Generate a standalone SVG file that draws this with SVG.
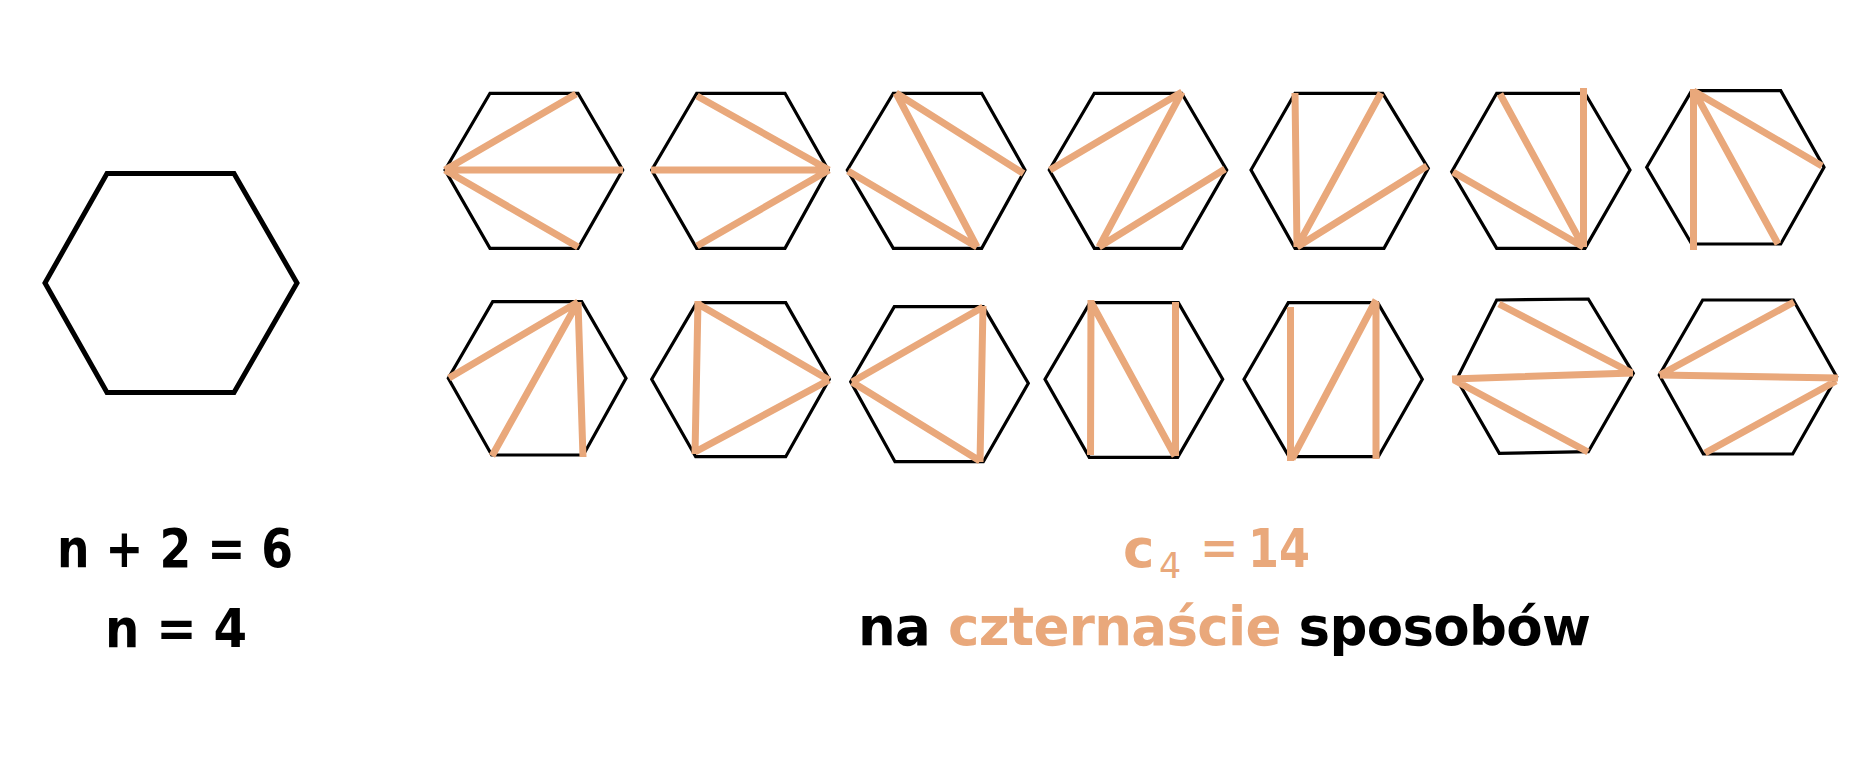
<svg xmlns="http://www.w3.org/2000/svg" width="1864" height="764" viewBox="0 0 1864 764">
<style>
.hex{fill:none;stroke:#000;stroke-width:3.2;stroke-linejoin:miter}
.big{fill:none;stroke:#000;stroke-width:5}
.d{stroke:#E9A87B;stroke-width:7;stroke-linecap:butt;fill:none}
.t{font-family:"DejaVu Sans","Liberation Sans",sans-serif;font-weight:700;font-size:53px;fill:#000}
.eq{font-family:"DejaVu Sans","Liberation Sans",sans-serif;font-weight:700;font-size:46px;fill:#E9A87B}
.sub{font-family:"DejaVu Sans","Liberation Sans",sans-serif;font-weight:400;font-size:35px;fill:#E9A87B}
.o{fill:#E9A87B}
</style>
<rect width="1864" height="764" fill="#fff"/>
<g id="big-hexagon">
<polygon class="big" points="45,283 107,173.5 234,173.5 297,283 234,392.5 107,392.5"/>
</g>
<g id="tri-1">
<polygon class="hex" points="445,170 490,93.3 578,93.3 622.7,170 578,248.3 490,248.3"/>
<path class="d" d="M445,170L576,94M445,170L623,170M445,170L578,247"/>
</g>
<g id="tri-2">
<polygon class="hex" points="651.7,170 696.7,93.3 785,93.3 828.3,170 785,248.3 696.7,248.3"/>
<path class="d" d="M829,170L651,170M829,170L697,96M829,170L697,246"/>
</g>
<g id="tri-3">
<polygon class="hex" points="847.3,170 893.3,93.3 981.7,93.3 1025,170 981.7,248.3 893.3,248.3"/>
<path class="d" d="M896,93L1023.5,173.5M896,93L977,247M848,171L977,247"/>
</g>
<g id="tri-4">
<polygon class="hex" points="1049.3,170 1094.3,93.3 1181.7,93.3 1226.7,170 1181.7,248.3 1094.3,248.3"/>
<path class="d" d="M1050,170L1182,92M1182,92L1099,247M1099,247L1225,169"/>
</g>
<g id="tri-5">
<polygon class="hex" points="1251,170 1295,93.3 1382.7,93.3 1428.3,168.3 1384,248.3 1295,248.3"/>
<path class="d" d="M1297,247L1295,93M1297,247L1381,93M1297,247L1427,166"/>
</g>
<g id="tri-6">
<polygon class="hex" points="1451.7,171.7 1496.7,93.3 1585,93.3 1630,170 1585,248.3 1496.7,248.3"/>
<path class="d" d="M1583.5,247L1583.5,88M1583.5,247L1500,94M1583.5,247L1453,172"/>
</g>
<g id="tri-7">
<polygon class="hex" points="1646.7,167.3 1691.7,90.7 1780.7,90.7 1824,167.3 1780.7,244 1691.7,244"/>
<path class="d" d="M1693.5,89L1693.5,250M1693.5,91L1822,166M1694,91L1778,244"/>
</g>
<g id="tri-8">
<polygon class="hex" points="448.3,378.3 492.7,301.7 581.7,301.7 626,378.3 583.3,455 491.7,455"/>
<path class="d" d="M578,302L449,378M578,302L492,456M578,302L583,457"/>
</g>
<g id="tri-9">
<polygon class="hex" points="651.7,379.3 696.7,302.7 785.7,302.7 829.3,379.3 785.7,456.7 695.7,456.7"/>
<path class="d" d="M698,301L695,454M698,304L829,380M695,452L829,380"/>
</g>
<g id="tri-10">
<polygon class="hex" points="850.7,381.7 894.3,306.7 983.3,306.7 1028.3,383.3 983.3,461.7 895,461.7"/>
<path class="d" d="M852,382L983,307M852,382L980,461M983,306L980,462"/>
</g>
<g id="tri-11">
<polygon class="hex" points="1045,379.3 1090,302.7 1178.3,302.7 1222.7,379.3 1177.7,457.3 1089.3,457.3"/>
<path class="d" d="M1091,300L1090.5,455M1091,302L1175,456M1175.5,456L1175.5,302"/>
</g>
<g id="tri-12">
<polygon class="hex" points="1244,379.3 1288.3,302.7 1377.7,302.7 1422.3,379.3 1378.3,456.7 1289,456.7"/>
<path class="d" d="M1290.5,307L1290.5,461M1292,459L1376,300M1376,302L1376,459"/>
</g>
<g id="tri-13">
<polygon class="hex" points="1456.7,379.3 1496.7,300 1588.3,299 1633.3,373.3 1588.3,451.7 1499.3,453.3"/>
<path class="d" d="M1499,304L1632,373M1452,379L1633,373M1454,380L1588,452"/>
</g>
<g id="tri-14">
<polygon class="hex" points="1659.3,375 1702.7,300 1793.3,300 1836.7,376.7 1792.7,454 1703.3,454"/>
<path class="d" d="M1660,375L1794,302M1660,375L1838,378M1836,381L1705,453"/>
</g>
<g id="labels">
<text class="t" x="57" y="567" textLength="236" lengthAdjust="spacingAndGlyphs">n + 2 = 6</text>
<text class="t" x="105" y="647" textLength="142" lengthAdjust="spacingAndGlyphs">n = 4</text>
<text class="t o" x="1123" y="567">c</text>
<text class="sub" x="1159" y="578">4</text>
<text class="eq" x="1200" y="564">=</text>
<text class="t o" x="1248" y="567" textLength="62" lengthAdjust="spacingAndGlyphs">14</text>
<text class="t" x="858" y="645" textLength="733" lengthAdjust="spacing">na <tspan class="o">czternaście</tspan> sposobów</text>
</g>
</svg>
